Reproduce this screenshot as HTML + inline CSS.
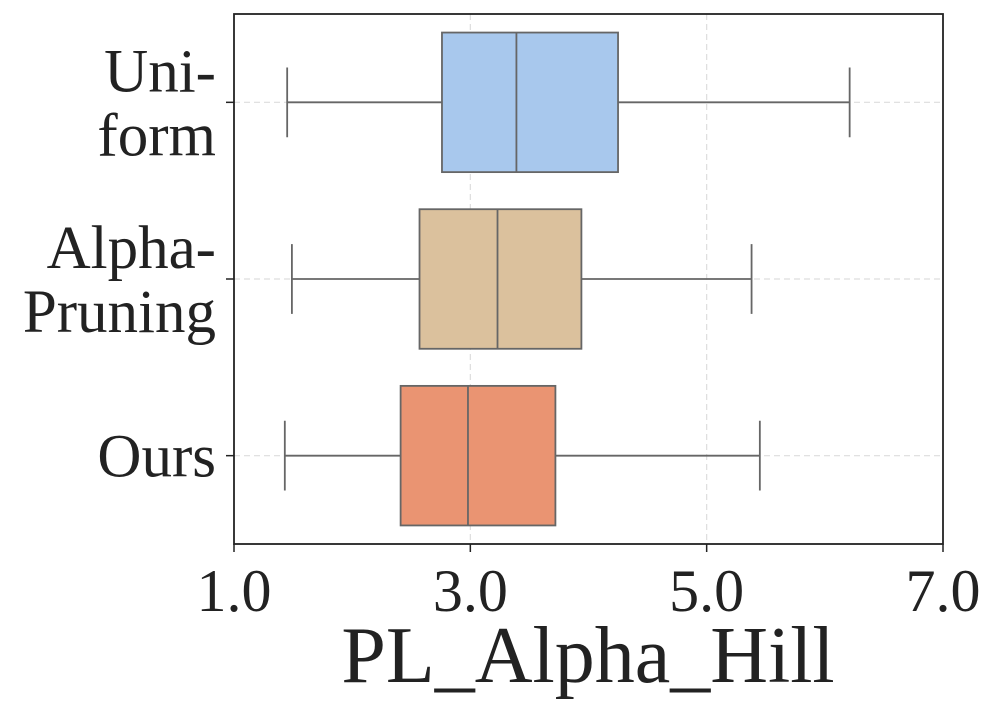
<!DOCTYPE html>
<html><head><meta charset="utf-8"><style>
body{margin:0;background:#fff}
svg text{font-family:"Liberation Serif",serif;fill:#222}
</style></head><body>
<svg id="c" width="997" height="714"></svg>
<script>
const categories=["Uniform","Alpha-Pruning","Ours"];
const catLabels=[["Uni-","form"],["Alpha-","Pruning"],["Ours"]];
const whiskLo=[1.45,1.49,1.43];
const q1=[2.76,2.57,2.41];
const medians=[3.39,3.23,2.98];
const q3=[4.25,3.94,3.72];
const whiskHi=[6.21,5.38,5.45];
const xTicks=[1.0,3.0,5.0,7.0];
const colors=["#a8c8ed","#dbc19d","#ea9472"];
const L=234,R=943,T=14,B=544;
const sx=v=>L+(v-1)/(6)*(R-L);
const bandH=(B-T)/3;
const sy=i=>T+bandH*(i+0.5);
const svg=document.getElementById('c');
const NS="http://www.w3.org/2000/svg";
function mk(t,a,p){const e=document.createElementNS(NS,t);for(const k in a)e.setAttribute(k,a[k]);(p||svg).appendChild(e);return e;}
xTicks.forEach(v=>{const g=mk('line',{x1:sx(v),x2:sx(v),y1:T,y2:B,stroke:'#ddd','stroke-dasharray':'6,4','stroke-width':1.2});
});
categories.forEach((c,i)=>{const g=mk('line',{x1:L,x2:R,y1:sy(i),y2:sy(i),stroke:'#ddd','stroke-dasharray':'6,4','stroke-width':1.2});
});
categories.forEach((c,i)=>{
 const y=sy(i),h=bandH*0.79;
 const g=mk('g',{});
 
 
 mk('line',{x1:sx(whiskLo[i]),x2:sx(q1[i]),y1:y,y2:y,stroke:'#666','stroke-width':1.8},g);
 mk('line',{x1:sx(q3[i]),x2:sx(whiskHi[i]),y1:y,y2:y,stroke:'#666','stroke-width':1.8},g);
 mk('line',{x1:sx(whiskLo[i]),x2:sx(whiskLo[i]),y1:y-h/4,y2:y+h/4,stroke:'#666','stroke-width':1.8},g);
 mk('line',{x1:sx(whiskHi[i]),x2:sx(whiskHi[i]),y1:y-h/4,y2:y+h/4,stroke:'#666','stroke-width':1.8},g);
 mk('rect',{x:sx(q1[i]),y:y-h/2,width:sx(q3[i])-sx(q1[i]),height:h,fill:colors[i],stroke:'#666','stroke-width':1.8},g);
 mk('line',{x1:sx(medians[i]),x2:sx(medians[i]),y1:y-h/2,y2:y+h/2,stroke:'#666','stroke-width':1.8},g);
 mk('line',{x1:L-8,x2:L,y1:y,y2:y,stroke:'#222','stroke-width':1.5});
 const lines=catLabels[i];
 lines.forEach((s,j)=>{const t=mk('text',{x:216,y:y+21+(j-(lines.length-1)/2)*64,'text-anchor':'end','font-size':61});t.textContent=s;
 });
});
mk('rect',{x:L,y:T,width:R-L,height:B-T,fill:'none',stroke:'#222','stroke-width':1.8});
xTicks.forEach(v=>{mk('line',{x1:sx(v),x2:sx(v),y1:B,y2:B+8,stroke:'#222','stroke-width':1.5});
 const t=mk('text',{x:sx(v),y:611,'text-anchor':'middle','font-size':60});t.textContent=v.toFixed(1);
 });
const xl=mk('text',{x:588,y:682,'text-anchor':'middle','font-size':80});xl.textContent="PL_Alpha_Hill";

</script>
</body></html>
